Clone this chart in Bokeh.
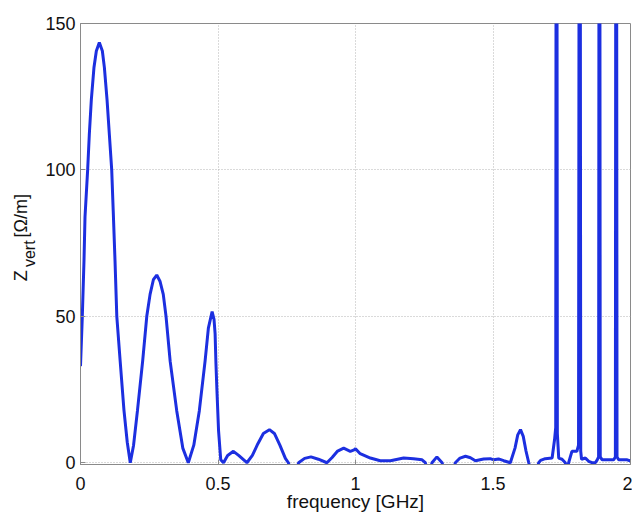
import numpy as np
from bokeh.plotting import figure
from bokeh.layouts import row
from bokeh.models import Range1d, FixedTicker, Title
from bokeh.core.properties import value
from bokeh.embed import file_html
from bokeh.resources import INLINE

# frequency [GHz]
freq = [
    0.000, 0.0066, 0.0127, 0.0164, 0.026, 0.032, 0.0394, 0.049, 0.0576, 0.0685,
    0.0795, 0.0868, 0.0965, 0.105, 0.1135, 0.119, 0.1255, 0.132, 0.144, 0.158, 0.170, 0.181,
    0.193, 0.207, 0.226, 0.241, 0.253, 0.265, 0.2773, 0.289, 0.301, 0.311, 0.326, 0.350, 0.372, 0.392,
    0.412, 0.432, 0.453, 0.465, 0.4786, 0.4855, 0.4895, 0.4925, 0.496, 0.502, 0.510, 0.520,
    0.535, 0.556, 0.575, 0.605, 0.625, 0.645, 0.665, 0.687, 0.705, 0.725, 0.745, 0.756,
    0.765, 0.785, 0.793, 0.815, 0.838, 0.865, 0.896, 0.915, 0.935, 0.957, 0.981, 0.995,
    1.000, 1.017, 1.054, 1.090, 1.127, 1.175, 1.211, 1.242, 1.254, 1.262, 1.272, 1.278,
    1.296, 1.315, 1.323, 1.355, 1.363, 1.380, 1.400, 1.418, 1.436, 1.466, 1.490, 1.503,
    1.520, 1.539, 1.563, 1.580, 1.590, 1.600, 1.610, 1.620, 1.630, 1.638, 1.658, 1.666,
    1.673, 1.690, 1.715, 1.724, 1.728, 1.731, 1.734, 1.739, 1.751, 1.763, 1.768, 1.771,
    1.775, 1.787, 1.805, 1.811, 1.8155, 1.819, 1.822, 1.836, 1.848, 1.860, 1.872, 1.879,
    1.884, 1.887, 1.890, 1.897, 1.939, 1.945, 1.948, 1.951, 1.957, 1.988, 2.000,
]
# Z_vert [Ohm/m]
zvert = [
    33, 50, 69, 84, 100, 112, 124, 135, 140.6, 143.5,
    140.6, 135, 124, 112, 100, 86, 69, 50, 35, 18, 7, 0,
    6, 17.7, 34.7, 50, 57.5, 62.5, 64.1, 62, 57.5, 50, 34.7, 17.7, 5, 0,
    6, 17.7, 34.7, 46, 51.6, 49, 44, 34, 25, 11, 1, 0,
    2.5, 3.9, 2.5, 0, 2.5, 6.5, 10, 11.3, 10, 6, 1.5, 0,
    -3, -3, 0, 1.5, 2.0, 1.2, 0, 1.8, 4.0, 5.0, 3.9, 4.4,
    4.8, 3.1, 1.6, 0.7, 0.7, 1.6, 1.4, 1.0, 0, -3, -3, 0,
    2.0, 0, -3, -3, 0, 1.6, 2.2, 1.7, 0.7, 1.3, 1.4, 1.0,
    1.3, 0.7, 0, 5, 9.5, 11.3, 9, 4, 0, -3, -3, 0,
    0.8, 1.4, 1.6, 8, 12, 400, 10, 1.6, 1.2, 0, -3, -3,
    0, 3.9, 3.9, 6, 400, 4, 1.2, 1.6, 0.5, 0, 0, 1.0,
    2, 400, 2, 1.0, 1.0, 2, 400, 2, 1.0, 1.0, 0.6,
]

x_ticks = [0, 0.5, 1, 1.5, 2]
x_tick_labels = {0: "0", 0.5: "0.5", 1: "1", 1.5: "1.5", 2: "2"}
y_ticks = [0, 50, 100, 150]
x_label = "frequency [GHz]"
y_label_parts = ["Z", "vert", "[Ω/m]"]

FONT = "Liberation Sans"
GREY = "#8a8a8a"
TXT = "#111111"
H = 514
QW = 42
FRAME_H = 440.5   # pixel height of the plotting frame (shared by the label strip)

# ---- main plot ----
p = figure(width=590, height=H, output_backend="svg", toolbar_location=None,
           x_range=Range1d(0, 2), y_range=Range1d(-0.6, 150),
           min_border_left=38, min_border_right=2, min_border_top=23,
           min_border_bottom=50)

p.line(x=freq, y=zvert, line_color="#1c2fe0", line_width=3)

p.xaxis.ticker = FixedTicker(ticks=x_ticks)
p.xaxis.major_label_overrides = x_tick_labels
p.yaxis.ticker = FixedTicker(ticks=y_ticks)

for ax in (p.xaxis, p.yaxis):
    ax.major_tick_in = 5
    ax.major_tick_out = 0
    ax.minor_tick_line_color = None
    ax.axis_line_color = GREY
    ax.major_tick_line_color = GREY
    ax.major_label_text_font = FONT
    ax.major_label_text_font_size = "18px"
    ax.major_label_text_color = TXT
p.xaxis.major_label_standoff = 12
p.yaxis.major_label_standoff = 5

p.add_layout(Title(text=x_label, align="center", vertical_align="bottom",
                   standoff=-7, text_font=FONT, text_font_size="19px",
                   text_font_style="normal", text_color=TXT), "below")

p.grid.grid_line_color = "#b4b4b4"
p.grid.grid_line_dash = "1 2"
p.outline_line_color = GREY
p.outline_line_width = 1

# ---- y-label strip (left of the axis); its frame is aligned with p's frame ----
q = figure(width=QW, height=H, output_backend="svg", toolbar_location=None,
           x_range=Range1d(0, QW), y_range=Range1d(0, FRAME_H),
           x_axis_type=None, y_axis_type=None, min_border=0)
q.outline_line_color = None
q.grid.visible = False

q.text(x=[20.5], y=[188.5], text=[y_label_parts[0]], angle=np.pi / 2,
       text_align="center", text_baseline="middle", text_font=value(FONT),
       text_font_size=value("18px"), text_color=TXT)
q.text(x=[29], y=[210.5], text=[y_label_parts[1]], angle=np.pi / 2,
       text_align="center", text_baseline="middle", text_font=value(FONT),
       text_font_size=value("16px"), text_color=TXT)
q.text(x=[20.5], y=[248.5], text=[y_label_parts[2]], angle=np.pi / 2,
       text_align="center", text_baseline="middle", text_font=value(FONT),
       text_font_size=value("18px"), text_color=TXT)

layout = row(q, p)
open("out.html", "w").write(file_html(layout, INLINE))
